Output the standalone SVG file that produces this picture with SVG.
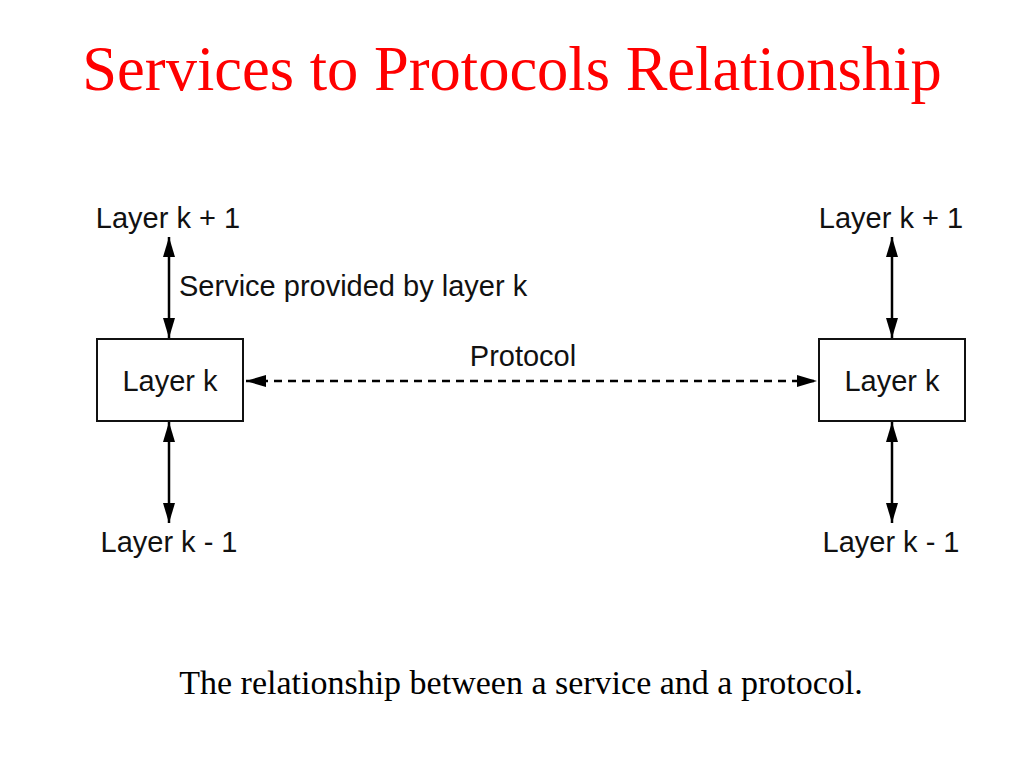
<svg xmlns="http://www.w3.org/2000/svg" width="1024" height="768" viewBox="0 0 1024 768">
<defs>
<marker id="ah" markerWidth="20" markerHeight="12" refX="20" refY="6" orient="auto-start-reverse" markerUnits="userSpaceOnUse">
<path d="M0,0 L20,6 L0,12 Z" fill="#000"/>
</marker>
</defs>
<style>
.lbl{font-family:"Liberation Sans",Arial,sans-serif;font-size:29px;fill:#111}
.box{fill:#fff;stroke:#111;stroke-width:2}
.arr{stroke:#000;stroke-width:2.5;fill:none}
.dash{stroke:#000;stroke-width:2.5;fill:none;stroke-dasharray:8 6}
</style>
<rect width="1024" height="768" fill="#fff"/>
<text x="512" y="90" text-anchor="middle" font-family="'Liberation Serif','Times New Roman',serif" font-size="62.5" fill="#ff0000">Services to Protocols Relationship</text>
<g id="connectors">
<line class="arr" x1="169" y1="237" x2="169" y2="338" marker-start="url(#ah)" marker-end="url(#ah)"/>
<line class="arr" x1="169" y1="422" x2="169" y2="523" marker-start="url(#ah)" marker-end="url(#ah)"/>
<line class="arr" x1="892" y1="237" x2="892" y2="338" marker-start="url(#ah)" marker-end="url(#ah)"/>
<line class="arr" x1="892" y1="422" x2="892" y2="523" marker-start="url(#ah)" marker-end="url(#ah)"/>
<line class="dash" x1="246" y1="381" x2="817" y2="381" marker-start="url(#ah)" marker-end="url(#ah)"/>
<text class="lbl" x="179" y="296">Service provided by layer k</text>
<text class="lbl" x="523" y="366" text-anchor="middle">Protocol</text>
</g>
<g id="left-upper"><text class="lbl" x="168" y="228" text-anchor="middle">Layer k + 1</text></g>
<g id="left-layer"><rect class="box" x="97" y="339" width="146" height="82"/><text class="lbl" x="170" y="391" text-anchor="middle">Layer k</text></g>
<g id="left-lower"><text class="lbl" x="169" y="552" text-anchor="middle">Layer k - 1</text></g>
<g id="right-upper"><text class="lbl" x="891" y="228" text-anchor="middle">Layer k + 1</text></g>
<g id="right-layer"><rect class="box" x="819" y="339" width="146" height="82"/><text class="lbl" x="892" y="391" text-anchor="middle">Layer k</text></g>
<g id="right-lower"><text class="lbl" x="891" y="552" text-anchor="middle">Layer k - 1</text></g>
<text x="521" y="694" text-anchor="middle" font-family="'Liberation Serif','Times New Roman',serif" font-size="34" fill="#000">The relationship between a service and a protocol.</text>
</svg>
